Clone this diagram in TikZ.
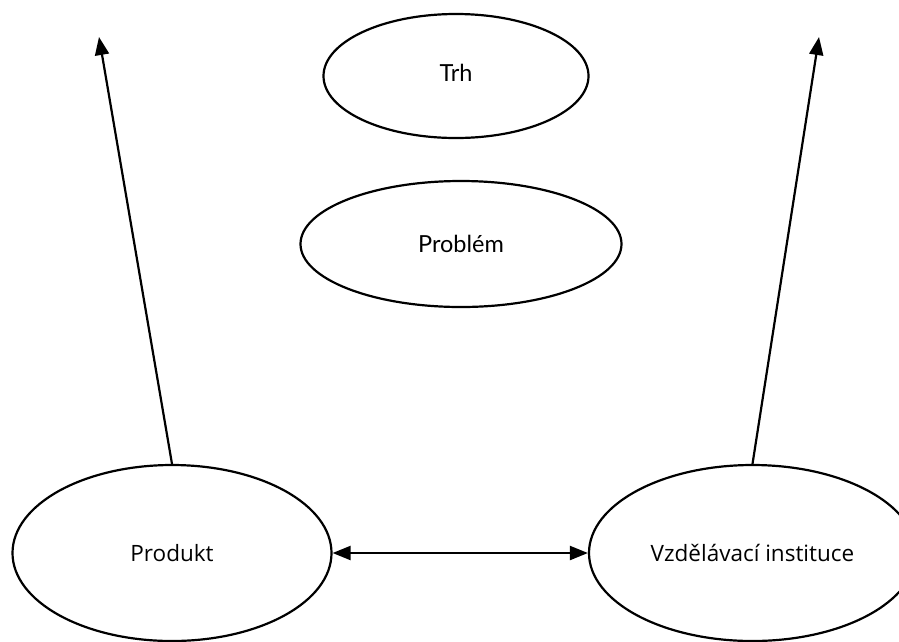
\documentclass[tikz,border=0pt]{standalone}
\usepackage{fontspec}
\setmainfont{Open Sans}
\newfontfamily\latofont{Lato}
\usetikzlibrary{shapes.geometric,arrows.meta}
\begin{document}
\begin{tikzpicture}[x=1pt,y=-1pt,
  bubble/.style={ellipse, draw, line width=2.2pt, inner sep=0pt,
    font=\fontsize{22.5}{26}\selectfont},
  topbubble/.style={bubble, font=\latofont\fontsize{23.5}{27}\selectfont},
  tip/.style={Triangle[length=18pt,width=14pt]},
  link/.style={line width=2.2pt, -{Triangle[length=18pt,width=14pt]}},
  twoway/.style={line width=2.2pt, {Triangle[length=18pt,width=14pt]}-{Triangle[length=18pt,width=14pt]}},
]
\path[use as bounding box] (0,0) rectangle (899,641);
\clip (0,0) rectangle (899,641);

% ellipses
\node[topbubble, minimum width=265, minimum height=124] (trh) at (456,76) {\raisebox{7pt}{Trh}};
\node[topbubble, minimum width=321, minimum height=126] (prob) at (461,244) {Problém};
\node[bubble, minimum width=319, minimum height=176] (prod) at (172,553) {Produkt};
\node[bubble, minimum width=327, minimum height=176] (inst) at (752.5,553) {Vzdělávací instituce};

% free ends of the upward arrows
\coordinate (tl) at (99,37);
\coordinate (tr) at (819,37);

% connectors
\draw[link] (prod.north) -- (tl);
\draw[link] (inst.north) -- (tr);
\draw[twoway] (prod) -- (inst);
\end{tikzpicture}
\end{document}
